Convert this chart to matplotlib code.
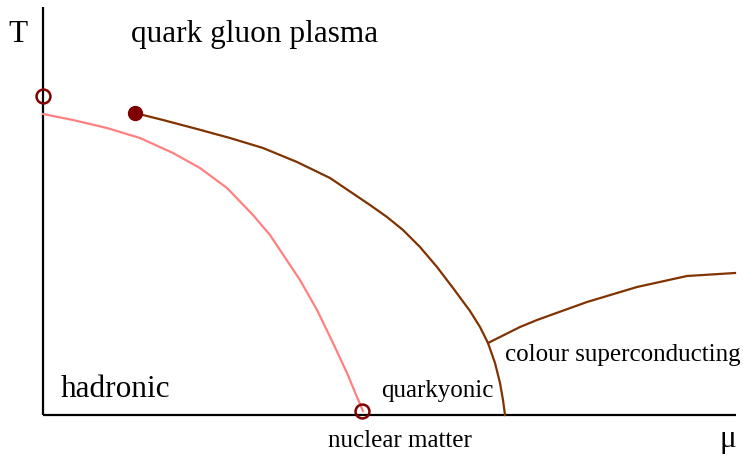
import numpy as np
import matplotlib.pyplot as plt

# phase diagram sketch, coordinates (mu, T in arbitrary units)
crossover_mu = [0, 30, 64, 97, 130, 157, 184, 210, 227, 247, 257, 274, 290, 304, 314, 320]
crossover_T = [301, 295, 287, 277, 262, 247, 227, 200, 180, 150, 135, 105, 72, 42, 18, 4]

deconf_mu = [92, 120, 154, 187, 220, 254, 287, 327, 344, 360, 377, 394, 410, 427, 437, 445, 452, 457, 460, 462]
deconf_T = [302, 295, 286, 277, 267, 253, 237, 210, 198, 185, 168, 148, 127, 104, 88, 72, 52, 32, 15, 0]

csc_mu = [445, 477, 494, 544, 594, 644, 692]
csc_T = [72, 88, 95, 113, 128, 139, 142]

open_pts_mu = [0, 319]
open_pts_T = [319, 4]
cep_mu = [92]
cep_T = [302]

labels = [
    ("quark gluon plasma", 88, 373, 22.5),
    ("hadronic", 18, 18, 22.5),
    ("quarkyonic", 338, 18, 18),
    ("nuclear matter", 285, -32, 18),
    ("colour superconducting", 462, 54, 18),
]

pink = '#ff8080'
brown = '#803300'
dark = '#800000'

plt.rcParams['font.family'] = ['Liberation Serif', 'DejaVu Serif']

fig = plt.figure(figsize=(7.43, 4.54), dpi=100)
ax = fig.add_axes([0, 0, 1, 1])
ax.set_xlim(-43, 700)
ax.set_ylim(-39, 415)
ax.axis('off')

# axes lines
ax.plot([0, 0], [0, 408], color='black', lw=1.6, solid_capstyle='butt')
ax.plot([0, 693], [0, 0], color='black', lw=1.6, solid_capstyle='butt')

ax.plot(crossover_mu, crossover_T, color=pink, lw=1.6, solid_joinstyle='round')
ax.plot(deconf_mu, deconf_T, color=brown, lw=1.6, solid_joinstyle='round')
ax.plot(csc_mu, csc_T, color=brown, lw=1.6, solid_joinstyle='round')

ax.plot(open_pts_mu, open_pts_T, 'o', ms=10, mfc='none', mec=dark, mew=1.8, clip_on=False)
ax.plot(cep_mu, cep_T, 'o', ms=10, mfc=dark, mec=dark, clip_on=False)

for txt, x, y, fs in labels:
    ax.text(x, y, txt, fontsize=fs, ha='left', va='baseline')

ax.text(-35, 373, "T", fontsize=22.5, ha='left', va='baseline')
ax.text(676, -32, "\u03bc", fontsize=22.5, ha='left', va='baseline')

fig.savefig('out.png', dpi=100)
